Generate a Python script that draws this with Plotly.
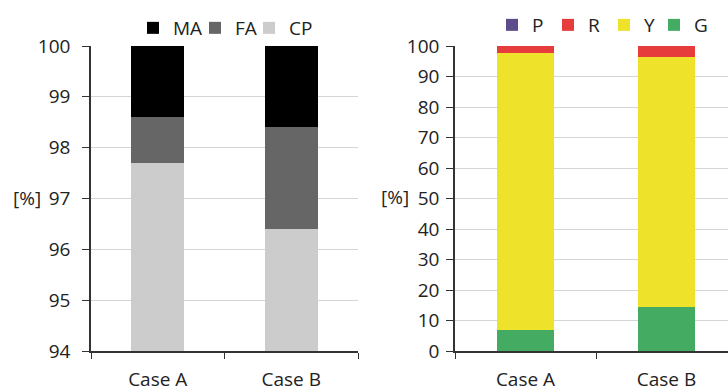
import plotly.graph_objects as go

cases = ["Case A", "Case B"]

# Left chart (stacked, %)
cp = [97.7, 96.4]
fa = [0.9, 2.0]
ma = [1.4, 1.6]

# Right chart (stacked, %)
g_vals = [7.0, 14.4]
y_vals = [90.6, 81.9]
r_vals = [2.4, 3.7]
p_vals = [0.0, 0.0]

left_ticks = [94, 95, 96, 97, 98, 99, 100]
right_ticks = [0, 10, 20, 30, 40, 50, 60, 70, 80, 90, 100]

FONT = "Open Sans"
W, H = 728, 391


def px(x):
    return x / W


def py(y):
    return 1 - y / H


fig = go.Figure()
fig.add_bar(x=cases, y=cp, name="CP", marker_color="#cccccc", marker_line_width=0,
            xaxis="x", yaxis="y", legend="legend3", width=0.4)
fig.add_bar(x=cases, y=fa, name="FA", marker_color="#666666", marker_line_width=0,
            xaxis="x", yaxis="y", legend="legend2", width=0.4)
fig.add_bar(x=cases, y=ma, name="MA", marker_color="#000000", marker_line_width=0,
            xaxis="x", yaxis="y", legend="legend", width=0.4)

fig.add_bar(x=cases, y=g_vals, name="G", marker_color="#43ab62", marker_line_width=0,
            xaxis="x2", yaxis="y2", legend="legend7", width=0.4)
fig.add_bar(x=cases, y=y_vals, name="Y", marker_color="#eee32a", marker_line_width=0,
            xaxis="x2", yaxis="y2", legend="legend6", width=0.4)
fig.add_bar(x=cases, y=r_vals, name="R", marker_color="#e63c3c", marker_line_width=0,
            xaxis="x2", yaxis="y2", legend="legend5", width=0.4)
fig.add_bar(x=cases, y=p_vals, name="P", marker_color="#5e4b8b", marker_line_width=0,
            xaxis="x2", yaxis="y2", legend="legend4", width=0.4)

ytop = py(46)
ybot = py(351)

common_x = dict(type="category", tickson="boundaries", ticks="outside", ticklen=6,
                tickcolor="#333333", showline=True, linecolor="#333333", linewidth=1.5,
                showgrid=False, tickfont=dict(size=19, color="#222222"),
                ticklabelstandoff=10, fixedrange=True)
common_y = dict(ticks="outside", ticklen=7, tickcolor="#333333", showline=True,
                linecolor="#333333", linewidth=1.5, showgrid=True, gridcolor="#d4d4d4",
                gridwidth=1, zeroline=False, tickfont=dict(size=19, color="#222222"),
                fixedrange=True)


def leg(box_x, box_y):
    return dict(orientation="h", x=px(box_x - 14), xanchor="left", y=py(box_y),
                yanchor="middle", font=dict(size=19), bgcolor="rgba(0,0,0,0)",
                itemclick=False, itemdoubleclick=False)


fig.update_layout(
    width=W, height=H,
    margin=dict(l=0, r=0, t=0, b=0, autoexpand=False),
    paper_bgcolor="white", plot_bgcolor="white",
    font=dict(family=FONT, color="#222222"),
    barmode="stack",
    showlegend=True,
    hovermode=False,
    xaxis=dict(domain=[px(91), px(358)], anchor="y", range=[-0.5, 1.5], **common_x),
    yaxis=dict(domain=[ybot, ytop], anchor="x", range=[94, 100], tickvals=left_ticks,
               ticklabelstandoff=8, **common_y),
    xaxis2=dict(domain=[px(455), 1.0], anchor="y2", range=[-0.5, 1.5 - 9 / 141], **common_x),
    yaxis2=dict(domain=[ybot, ytop], anchor="x2", range=[0, 100], tickvals=right_ticks,
                ticklabelstandoff=3, **common_y),
    legend=leg(147, 28),
    legend2=leg(209, 28),
    legend3=leg(263, 28),
    legend4=leg(506, 25),
    legend5=leg(562, 25),
    legend6=leg(618, 25),
    legend7=leg(668, 25),
    annotations=[
        dict(text="[%]", x=px(27), y=py(198), xref="paper", yref="paper",
             xanchor="center", yanchor="middle", showarrow=False, font=dict(size=19)),
        dict(text="[%]", x=px(395), y=py(197), xref="paper", yref="paper",
             xanchor="center", yanchor="middle", showarrow=False, font=dict(size=19)),
    ],
)

fig.write_html(
    "out.html",
    config={"displayModeBar": False, "staticPlot": False},
    post_script="document.body.style.margin='0';document.body.style.overflow='hidden';",
)
